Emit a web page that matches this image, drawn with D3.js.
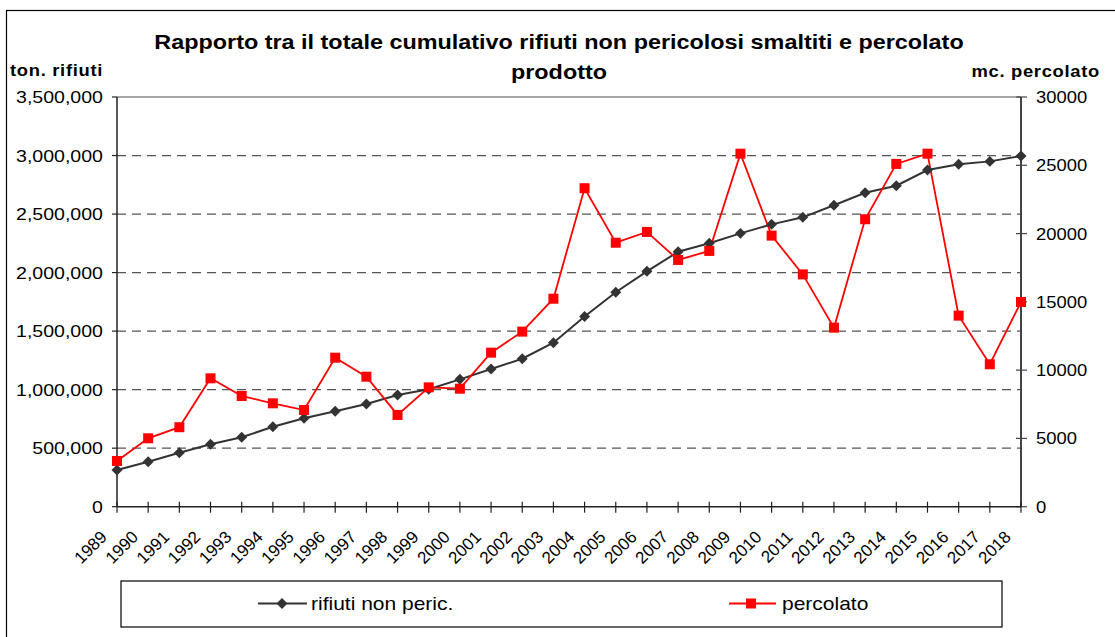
<!DOCTYPE html>
<html><head><meta charset="utf-8">
<script src="https://cdn.jsdelivr.net/npm/d3@7"></script>
<style>
html,body{margin:0;padding:0;background:#fff;}
svg{display:block;font-family:"Liberation Sans",Arial,sans-serif;}
</style></head>
<body>
<svg id="chart" width="1115" height="637"></svg>
<script>
const years = ["1989","1990","1991","1992","1993","1994","1995","1996","1997","1998","1999","2000","2001","2002","2003","2004","2005","2006","2007","2008","2009","2010","2011","2012","2013","2014","2015","2016","2017","2018"];
const rifiuti = [313000,384000,461000,533000,593000,683000,755000,815000,877000,954000,1003000,1088000,1176000,1264000,1401000,1625000,1832000,2011000,2178000,2250000,2335000,2412000,2472000,2575000,2682000,2742000,2876000,2925000,2950000,2996000];
const percolato = [3350,5010,5820,9400,8110,7570,7080,10910,9520,6720,8740,8640,11280,12820,15230,23320,19330,20120,18070,18730,25850,19850,17010,13110,21050,25100,25850,13990,10430,14990];
const leftTicks = [0,500000,1000000,1500000,2000000,2500000,3000000,3500000];
const rightTicks = [0,5000,10000,15000,20000,25000,30000];
const titleLines = ["Rapporto tra il totale cumulativo rifiuti non pericolosi smaltiti e percolato","prodotto"];
const leftTitle = "ton. rifiuti";
const rightTitle = "mc. percolato";
const seriesNames = ["rifiuti non peric.","percolato"];

const SX = 1.2;
const svg = d3.select("#chart");
const L = 117, R = 1021, T = 97, B = 506.7;
const x = d3.scalePoint().domain(years).range([L, R]);
const yL = d3.scaleLinear().domain([0, 3500000]).range([B, T]);
const yR = d3.scaleLinear().domain([0, 30000]).range([B, T]);

// outer border
svg.append("rect").attr("x",6.5).attr("y",10.5).attr("width",1120).attr("height",640)
  .attr("fill","none").attr("stroke","#000").attr("stroke-width",1.2);

function stext(g, tx, ty, str, opts){
  const t = g.append("text").attr("transform",`translate(${tx},${ty}) scale(${opts.sx||SX},1)`)
    .attr("text-anchor",opts.anchor||"start").attr("font-size",opts.size).attr("fill","#000")
    .attr("font-weight",opts.weight||"normal").text(str);
  if (opts.ls) t.attr("letter-spacing",opts.ls);
  return t;
}

// title
stext(svg, 559, 48.5, titleLines[0], {anchor:"middle", size:20, weight:"bold", sx:1.17});
stext(svg, 559, 78.5, titleLines[1], {anchor:"middle", size:20, weight:"bold", sx:1.17});
stext(svg, 10, 76, leftTitle, {anchor:"start", size:16, weight:"bold", sx:1.15, ls:0.6});
stext(svg, 1100, 77, rightTitle, {anchor:"end", size:16, weight:"bold", sx:1.15, ls:0.6});

// gridlines
svg.append("g").selectAll("line").data(leftTicks.filter(d=>d>0 && d<3500000)).join("line")
  .attr("x1",L).attr("x2",R).attr("y1",d=>yL(d)).attr("y2",d=>yL(d))
  .attr("stroke","#555").attr("stroke-width",1.3).attr("stroke-dasharray","9,6");
svg.append("line").attr("x1",L).attr("x2",R).attr("y1",yL(3500000)).attr("y2",yL(3500000))
  .attr("stroke","#888").attr("stroke-width",1.3);

// left axis
const gl = svg.append("g");
gl.append("line").attr("x1",L).attr("x2",L).attr("y1",T).attr("y2",B).attr("stroke","#222").attr("stroke-width",1.5);
gl.selectAll("line.t").data(leftTicks).join("line").attr("class","t")
  .attr("x1",L-5).attr("x2",L).attr("y1",d=>yL(d)).attr("y2",d=>yL(d)).attr("stroke","#222").attr("stroke-width",1.2);
const fmt = d3.format(",");
leftTicks.forEach(d => stext(gl, 103, yL(d)+6, fmt(d), {anchor:"end", size:16.3}));

// right axis
const gr = svg.append("g");
gr.append("line").attr("x1",R).attr("x2",R).attr("y1",T).attr("y2",B).attr("stroke","#444").attr("stroke-width",2);
gr.selectAll("line.t").data(rightTicks).join("line").attr("class","t")
  .attr("x1",R-5).attr("x2",R+6).attr("y1",d=>yR(d)).attr("y2",d=>yR(d)).attr("stroke","#444").attr("stroke-width",1.2);
rightTicks.forEach(d => stext(gr, 1036, yR(d)+6, String(d), {anchor:"start", size:16.3, sx:1.13}));

// x axis
const gx = svg.append("g");
gx.append("line").attr("x1",L).attr("x2",R).attr("y1",B).attr("y2",B).attr("stroke","#222").attr("stroke-width",1.5);
gx.selectAll("line.t").data(years).join("line").attr("class","t")
  .attr("x1",d=>x(d)).attr("x2",d=>x(d)).attr("y1",B-5).attr("y2",B+6).attr("stroke","#222").attr("stroke-width",1.2);
gx.selectAll("text").data(years).join("text")
  .attr("transform",d=>`translate(${x(d)-9},${538}) rotate(-45)`)
  .attr("text-anchor","end").attr("font-size",17).attr("fill","#000").text(d=>d);

// lines
const lineL = d3.line().x((d,i)=>x(years[i])).y(d=>yL(d));
const lineR = d3.line().x((d,i)=>x(years[i])).y(d=>yR(d));
svg.append("path").attr("d",lineL(rifiuti)).attr("fill","none").attr("stroke","#333").attr("stroke-width",2);
svg.append("path").attr("d",lineR(percolato)).attr("fill","none").attr("stroke","#ff0000").attr("stroke-width",1.8);

const diamond = d3.symbol().type(d3.symbolSquare).size(60);
svg.append("g").selectAll("path").data(rifiuti).join("path")
  .attr("d",diamond()).attr("transform",(d,i)=>`translate(${x(years[i])},${yL(d)}) rotate(45)`)
  .attr("fill","#333");
svg.append("g").selectAll("rect").data(percolato).join("rect")
  .attr("x",(d,i)=>x(years[i])-5).attr("y",d=>yR(d)-5).attr("width",10).attr("height",10)
  .attr("fill","#ff0000");

// legend
const lg = svg.append("g");
lg.append("rect").attr("x",121).attr("y",581).attr("width",881).attr("height",46)
  .attr("fill","#fff").attr("stroke","#000").attr("stroke-width",1.2);
lg.append("line").attr("x1",258).attr("x2",307).attr("y1",603.5).attr("y2",603.5).attr("stroke","#333").attr("stroke-width",2);
lg.append("path").attr("d",diamond()).attr("transform","translate(282,603.5) rotate(45)").attr("fill","#333");
stext(lg, 311, 610, seriesNames[0], {anchor:"start", size:17.5});
lg.append("line").attr("x1",729).attr("x2",776).attr("y1",603.5).attr("y2",603.5).attr("stroke","#ff0000").attr("stroke-width",1.8);
lg.append("rect").attr("x",746).attr("y",598.5).attr("width",10).attr("height",10).attr("fill","#ff0000");
stext(lg, 782, 610, seriesNames[1], {anchor:"start", size:17.5});
</script>
</body></html>
